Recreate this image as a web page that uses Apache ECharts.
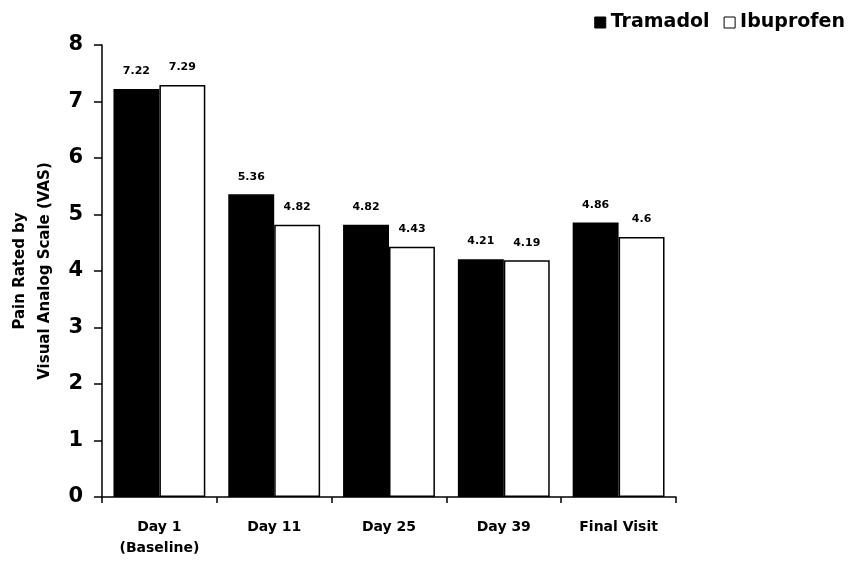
<!DOCTYPE html>
<html><head><meta charset="utf-8">
<script src="https://cdn.jsdelivr.net/npm/echarts@6/dist/echarts.min.js"></script>
<style>html,body{margin:0;padding:0;background:#fff}#c{width:854px;height:563px}</style>
</head><body><div id="c"></div>
<script>
const categories = ['Day 1\n(Baseline)', 'Day 11', 'Day 25', 'Day 39', 'Final Visit'];
const tramadol = [7.22, 5.36, 4.82, 4.21, 4.86];
const ibuprofen = [7.29, 4.82, 4.43, 4.19, 4.6];
const yTicks = [0, 1, 2, 3, 4, 5, 6, 7, 8];

const chart = echarts.init(document.getElementById('c'));
const font = 'DejaVu Sans';
const labelCfg = {show: true, position: 'top', distance: 12, color: '#000', fontSize: 11, fontWeight: 'bold', fontFamily: font};
chart.setOption({
  animation: false,
  backgroundColor: '#fff',
  legend: {
    top: 8, right: 4, itemGap: 14, itemWidth: 11, itemHeight: 11, icon: 'rect',
    textStyle: {fontFamily: font, fontWeight: 'bold', fontSize: 19, color: '#000', padding: [0, 0, 0, 0]},
    data: [{name: 'Tramadol', itemStyle: {color: '#000', borderColor: '#000', borderWidth: 1}},
           {name: 'Ibuprofen', itemStyle: {color: '#fff', borderColor: '#000', borderWidth: 1}}]
  },
  grid: {left: 102, right: 178, top: 45, bottom: 66, containLabel: false, outerBoundsMode: 'none'},
  xAxis: {
    type: 'category', data: categories,
    axisLine: {lineStyle: {color: '#000', width: 1.5}},
    axisTick: {show: true, length: 6, inside: false, lineStyle: {color: '#000', width: 1.5}},
    axisLabel: {color: '#000', fontFamily: font, fontWeight: 'bold', fontSize: 14, margin: 20, lineHeight: 21}
  },
  yAxis: {
    type: 'value', min: 0, max: 8, interval: 1,
    name: 'Pain Rated by\nVisual Analog Scale (VAS)', nameLocation: 'middle', nameGap: 43,
    nameTextStyle: {color: '#000', fontFamily: font, fontWeight: 'bold', fontSize: 15, lineHeight: 25},
    axisLine: {show: true, lineStyle: {color: '#000', width: 1.5}},
    axisTick: {show: true, length: 8, lineStyle: {color: '#000', width: 1.5}},
    splitLine: {show: false},
    axisLabel: {color: '#000', fontFamily: font, fontWeight: 'bold', fontSize: 21, margin: 19,
      formatter: v => yTicks.includes(v) ? String(v) : ''}
  },
  series: [
    {name: 'Tramadol', type: 'bar', data: tramadol, barGap: '0%', barCategoryGap: '20%',
     itemStyle: {color: '#000', borderColor: '#000', borderWidth: 1.5}, label: labelCfg},
    {name: 'Ibuprofen', type: 'bar', data: ibuprofen,
     itemStyle: {color: '#fff', borderColor: '#000', borderWidth: 1.5}, label: labelCfg}
  ]
});
</script></body></html>
